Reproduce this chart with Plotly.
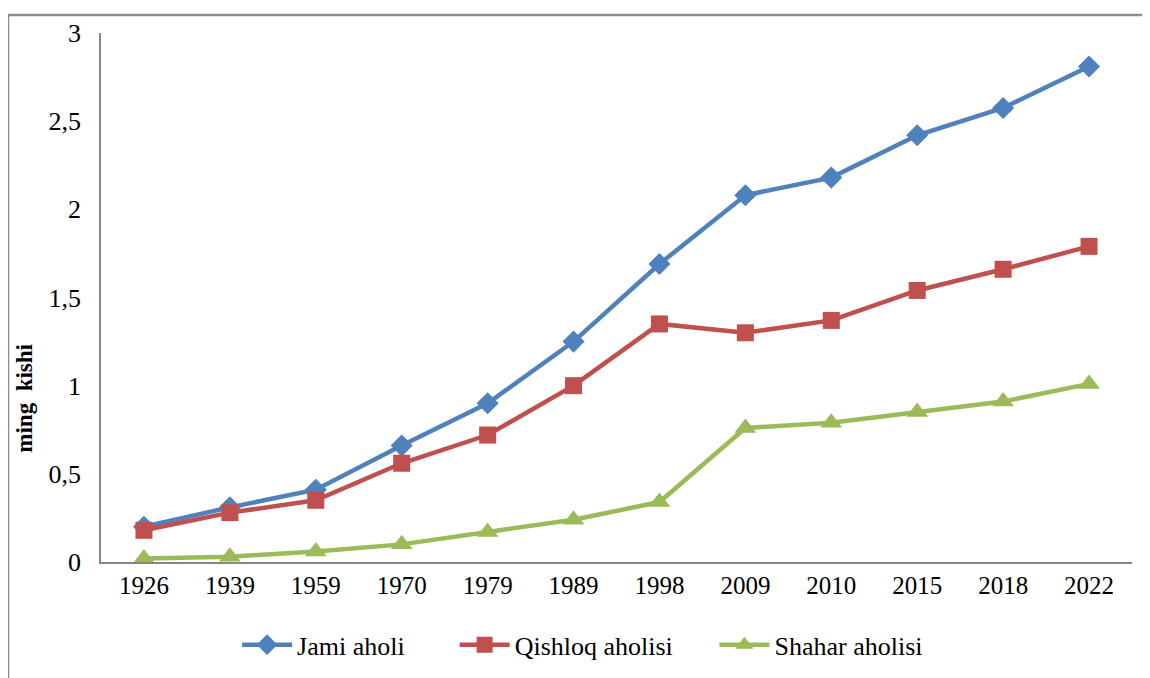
import plotly.graph_objects as go

years = ["1926", "1939", "1959", "1970", "1979", "1989", "1998", "2009", "2010", "2015", "2018", "2022"]
jami = [0.20, 0.31, 0.41, 0.66, 0.90, 1.25, 1.69, 2.08, 2.18, 2.42, 2.575, 2.81]
qishloq = [0.18, 0.28, 0.35, 0.56, 0.72, 1.00, 1.35, 1.30, 1.37, 1.54, 1.66, 1.79]
shahar = [0.02, 0.03, 0.06, 0.10, 0.17, 0.24, 0.34, 0.76, 0.79, 0.85, 0.91, 1.01]

y_tickvals = [0, 0.5, 1, 1.5, 2, 2.5, 3]
y_ticktext = ["0", "0,5", "1", "1,5", "2", "2,5", "3"]

names = ["Jami aholi", "Qishloq aholisi", "Shahar aholisi"]
colors = ["#4F81BD", "#C0504D", "#9BBB59"]
symbols = ["diamond", "square", "triangle-up"]
sizes = [17, 17, 19]
series = [jami, qishloq, shahar]
legend_ids = ["legend", "legend2", "legend3"]
legend_x = [0.132, 0.343, 0.595]

FONT = "Liberation Serif, Times New Roman, serif"

fig = go.Figure()
for name, col, sym, sz, vals, lid in zip(names, colors, symbols, sizes, series, legend_ids):
    fig.add_trace(go.Scatter(
        x=years, y=vals, name=name, mode="lines+markers",
        line=dict(color=col, width=4.5),
        marker=dict(symbol=sym, size=sz, color=col),
        legend=lid,
    ))

def leg(x):
    return dict(orientation="h", x=x, xanchor="left", y=-0.112, yanchor="top",
                font=dict(family=FONT, size=26), itemwidth=50, bgcolor="rgba(0,0,0,0)")

fig.update_layout(
    width=1150, height=678,
    margin=dict(l=93, r=26, t=25, b=124, autoexpand=False),
    paper_bgcolor="white", plot_bgcolor="white",
    font=dict(family=FONT, size=25, color="black"),
    showlegend=True,
    legend=leg(legend_x[0]),
    legend2=leg(legend_x[1]),
    legend3=leg(legend_x[2]),
    xaxis=dict(type="category", range=[-0.5, 11.5], showline=True, linecolor="#868686",
               linewidth=1.5, showgrid=False, ticks="", tickfont=dict(size=25),
               zeroline=False, automargin=False),
    yaxis=dict(range=[0, 3], tickvals=y_tickvals, ticktext=y_ticktext, showline=True,
               linecolor="#868686", linewidth=1.5, showgrid=False, ticks="",
               ticklabelstandoff=13, zeroline=False, tickfont=dict(size=26),
               automargin=False),
    annotations=[dict(text="<b>ming  kishi</b>", xref="paper", yref="paper",
                      x=-0.075, y=0.31, textangle=-90, showarrow=False,
                      font=dict(family=FONT, size=23, color="black"),
                      xanchor="center", yanchor="middle")],
    shapes=[dict(type="rect", xref="paper", yref="paper", x0=-0.0902, x1=1.05,
                 y0=-0.3, y1=1.034, line=dict(color="#8C8C8C", width=2.5),
                 fillcolor="rgba(0,0,0,0)", layer="below")],
)

fig.write_html("out.html")
